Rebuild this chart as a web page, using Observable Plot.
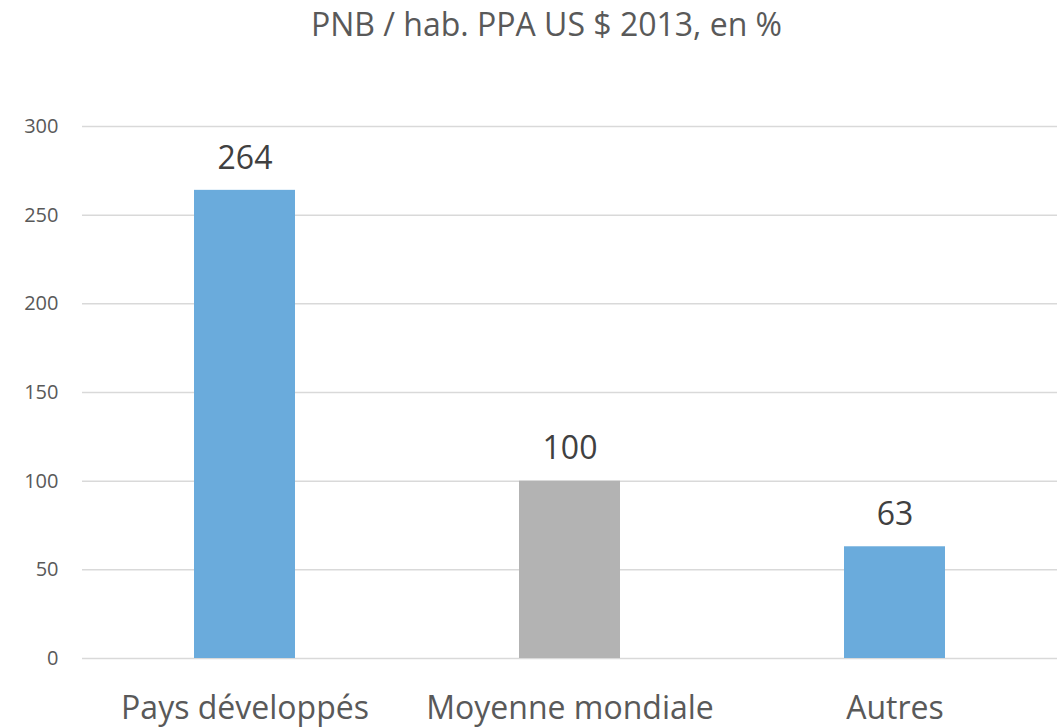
<!DOCTYPE html>
<html>
<head>
<meta charset="utf-8">
<script src="https://cdn.jsdelivr.net/npm/d3@7"></script>
<script src="https://cdn.jsdelivr.net/npm/@observablehq/plot@0.6"></script>
<style>
  html, body { margin: 0; padding: 0; background: #fff; }
  body { width: 1061px; height: 728px; overflow: hidden; font-family: "Open Sans", sans-serif; }
  #title { height: 60px; line-height: 48px; text-align: center; font-size: 32px; color: #595959; padding-left: 32px; box-sizing: border-box; }
</style>
</head>
<body>
<div id="title">PNB / hab. PPA US $ 2013, en %</div>
<div id="chart"></div>
<script>
const categories = ["Pays développés", "Moyenne mondiale", "Autres"];
const values = [264, 100, 63];
const barColors = ["#6aabdc", "#b3b3b3", "#6aabdc"];
const yTicks = [0, 50, 100, 150, 200, 250, 300];

const data = categories.map((c, i) => ({category: c, value: values[i], color: barColors[i]}));

const chart = Plot.plot({
  width: 1061,
  height: 668,
  marginTop: 66,
  marginBottom: 70,
  marginLeft: 82,
  marginRight: 4,
  style: {fontFamily: "Open Sans, sans-serif", background: "#fff", fontSize: "20px"},
  x: {domain: categories, paddingInner: 0.69, paddingOuter: 0.345, label: null},
  y: {domain: [0, 300], label: null},
  marks: [
    Plot.ruleY(yTicks, {stroke: "#d9d9d9", strokeWidth: 1.5}),
    Plot.barY(data, {x: "category", y: "value", fill: "color"}),
    Plot.text(data, {x: "category", y: "value", text: d => String(d.value), dy: -32, fontSize: 32, fill: "#404040"}),
    Plot.axisY({ticks: yTicks, tickSize: 0, tickPadding: 24, fontSize: 20, color: "#595959", label: null}),
    Plot.axisX({tickSize: 0, tickPadding: 38, fontSize: 32, color: "#595959", label: null})
  ]
});
document.getElementById("chart").appendChild(chart);
</script>
</body>
</html>
